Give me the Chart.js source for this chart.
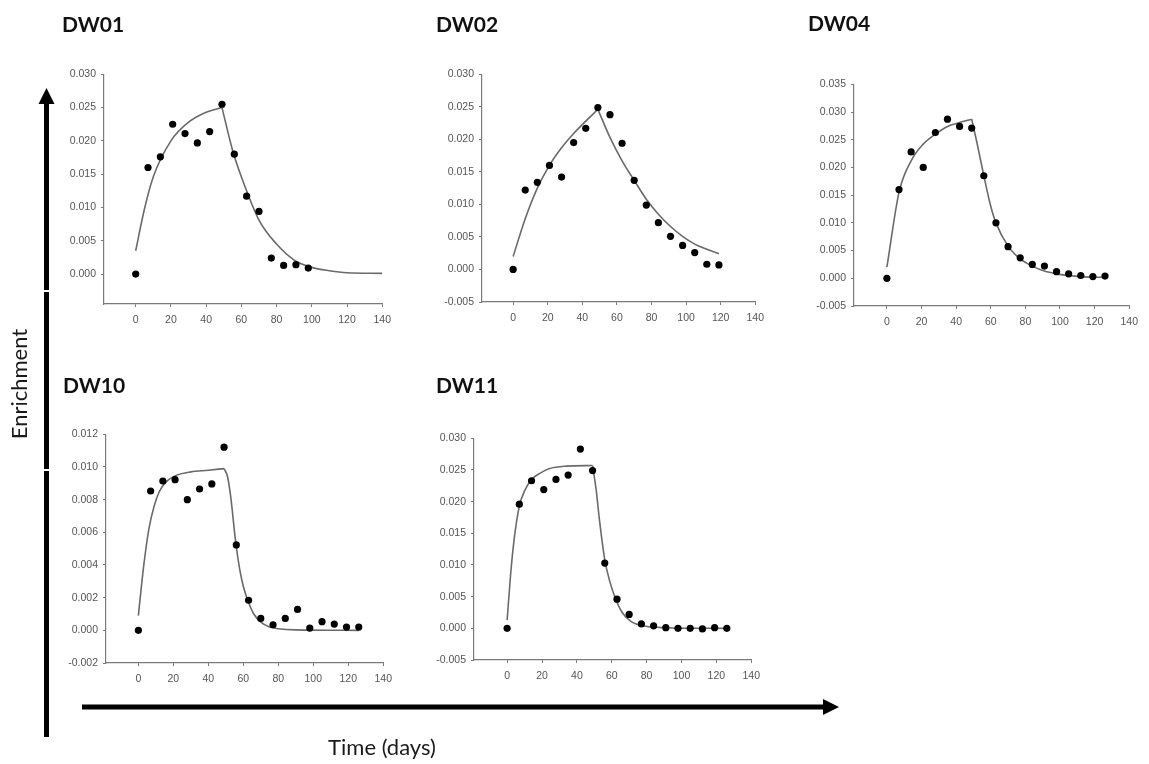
<!DOCTYPE html>
<html><head><meta charset="utf-8">
<script src="https://cdn.jsdelivr.net/npm/chart.js@4.4.0/dist/chart.umd.min.js"></script>
<style>
html,body{margin:0;padding:0;background:#fff;}
body{width:1149px;height:764px;position:relative;overflow:hidden;}
canvas{position:absolute;}
svg{position:absolute;left:0;top:0;pointer-events:none;}
</style></head><body>
<canvas id="c01"></canvas><canvas id="c02"></canvas><canvas id="c04"></canvas>
<canvas id="c10"></canvas><canvas id="c11"></canvas>
<svg id="ov" width="1149" height="764"></svg>
<script>
// ---------- data ----------
const sampleDays = [0,7,14,21,28,35,42,49,56,63,70,77,84,91,98,105,112,119,126];
const xTickValues = [0,20,40,60,80,100,120,140];

const dw01Obs = [0.0000,0.0160,0.0176,0.0225,0.0211,0.0197,0.0214,0.0255,0.0180,0.0117,0.0094,0.0024,0.0013,0.0014,0.0009];
const dw01RiseX = [0,5,10,20,30,40,49];
const dw01RiseY = [0.0035,0.0098,0.0146,0.0200,0.0228,0.0243,0.0250];
const dw01DecayX = [49,55,60,70,80,90,100,110,120,140];
const dw01DecayY = [0.0250,0.0186,0.0146,0.0081,0.0045,0.0021,0.0010,0.0005,0.0002,0.0001];
const dw01YTicks = [0,0.005,0.010,0.015,0.020,0.025,0.030];

const dw02Obs = [0.0000,0.0122,0.0134,0.0160,0.0142,0.0195,0.0217,0.0249,0.0238,0.0194,0.0137,0.0099,0.0072,0.0051,0.0037,0.0026,0.0008,0.0007];
const dw02RiseX = [0,7,14,21,28,35,42,49];
const dw02RiseY = [0.0020,0.0078,0.0125,0.0160,0.0187,0.0209,0.0228,0.0246];
const dw02DecayX = [49,56,63,70,77,84,91,98,105,112,119];
const dw02DecayY = [0.0246,0.0203,0.0167,0.0137,0.0108,0.0085,0.0066,0.0051,0.0039,0.0031,0.0024];
const dw02YTicks = [-0.005,0,0.005,0.010,0.015,0.020,0.025,0.030];

const dw04Obs = [0.0000,0.0160,0.0228,0.0200,0.0263,0.0287,0.0274,0.0271,0.0185,0.0100,0.0057,0.0037,0.0025,0.0022,0.0012,0.0008,0.0005,0.0003,0.0004];
const dw04RiseX = [0,7,14,21,28,35,42,49];
const dw04RiseY = [0.0020,0.0155,0.0212,0.0242,0.0260,0.0274,0.0281,0.0287];
const dw04DecayX = [49,52,56,60,63,70,77,84,91,98,105,112,119,126];
const dw04DecayY = [0.0287,0.0245,0.0185,0.0130,0.0100,0.0058,0.0035,0.0022,0.0013,0.0008,0.0005,0.0003,0.0002,0.0002];
const dw04YTicks = [-0.005,0,0.005,0.010,0.015,0.020,0.025,0.030,0.035];

const dw10Obs = [0.0000,0.00853,0.00914,0.00922,0.00800,0.00865,0.00896,0.01121,0.00523,0.00184,0.00073,0.00034,0.00073,0.00128,0.00014,0.00053,0.00038,0.00020,0.00020];
const dw10RiseX = [0,3,6,9,12,16,22,30,40,49];
const dw10RiseY = [0.0009,0.0039,0.0062,0.0076,0.0085,0.0091,0.0095,0.0097,0.0098,0.0099];
const dw10DecayX = [49,51,53,55,56,58,60,63,66,70,75,80,90,126];
const dw10DecayY = [0.0099,0.0094,0.0080,0.0060,0.0051,0.0037,0.0027,0.0017,0.0010,0.0005,0.0002,0.0001,0.00003,0.0000];
const dw10YTicks = [-0.002,0,0.002,0.004,0.006,0.008,0.010,0.012];

const dw11Obs = [0.0000,0.0196,0.0233,0.0219,0.0235,0.0242,0.0283,0.0249,0.0103,0.0046,0.0022,0.0007,0.0004,0.0001,0.0000,0.0000,-0.0001,0.0001,0.0000];
const dw11RiseX = [0,2,4,7,10,14,19,24,34,49];
const dw11RiseY = [0.0013,0.0085,0.0140,0.0193,0.0217,0.0235,0.0245,0.0252,0.0256,0.0257];
const dw11DecayX = [49,51,53,56,59,62,66,71,78,90,126];
const dw11DecayY = [0.0257,0.0220,0.0170,0.0108,0.0073,0.0048,0.0025,0.0011,0.0004,0.0001,0.0000];
const dw11YTicks = [-0.005,0,0.005,0.010,0.015,0.020,0.025,0.030];

// ---------- panels ----------
const AXW = 55, AXH = 27, PADT = 10, PADR = 15;
function pts(xs, ys){ return ys.map((y,i)=>({x:xs[i], y:y})); }

function makePanel(id, box, xMin, yMin, yMax, yTicks, obs, rx, ry, dx, dy){
  const cv = document.getElementById(id);
  const w = (box.r + PADR) - (box.l - AXW);
  const h = (box.b + AXH) - (box.t - PADT);
  cv.style.left = (box.l - AXW) + 'px';
  cv.style.top = (box.t - PADT) + 'px';
  cv.width = w; cv.height = h;
  cv.style.width = w + 'px'; cv.style.height = h + 'px';
  const lineStyle = {type:'line', borderColor:'#6a6a6a', borderWidth:1.6, pointRadius:0,
                     cubicInterpolationMode:'monotone', fill:false, order:2};
  new Chart(cv, {
    type:'scatter',
    data:{datasets:[
      Object.assign({label:'fit rise', data:pts(rx, ry)}, lineStyle),
      Object.assign({label:'fit decay', data:pts(dx, dy)}, lineStyle),
      {label:'observed', data:pts(sampleDays.slice(0, obs.length), obs), pointRadius:3.6,
       pointBackgroundColor:'#000', pointBorderColor:'#000', pointBorderWidth:0, showLine:false, order:1}
    ]},
    options:{
      responsive:false, animation:false, devicePixelRatio:1,
      layout:{padding:{top:PADT, right:PADR, left:0, bottom:0}},
      plugins:{legend:{display:false}, tooltip:{enabled:false}},
      scales:{
        x:{type:'linear', min:xMin, max:140,
           afterBuildTicks:(s)=>{ s.ticks = xTickValues.map(v=>({value:v})); },
           afterFit:(s)=>{ s.height = AXH; },
           grid:{drawOnChartArea:false, drawTicks:true, tickLength:3, color:'#7a7a7a'},
           border:{display:true, color:'#7a7a7a', width:1.2},
           ticks:{padding:7, color:'#555', font:{family:'Liberation Sans', size:10.5},
                  callback:(v)=>String(v), maxRotation:0, autoSkip:false}},
        y:{type:'linear', min:yMin, max:yMax,
           afterBuildTicks:(s)=>{ s.ticks = yTicks.map(v=>({value:v})); },
           afterFit:(s)=>{ s.width = AXW; },
           grid:{drawOnChartArea:false, drawTicks:true, tickLength:3, color:'#7a7a7a'},
           border:{display:true, color:'#7a7a7a', width:1.2},
           ticks:{padding:5, color:'#555', font:{family:'Liberation Sans', size:10.5},
                  callback:(v)=>Number(v).toFixed(3), autoSkip:false}}
      }
    }
  });
}

makePanel('c01', {l:104,t:73,r:383,b:304}, -18, -0.0045, 0.030, dw01YTicks, dw01Obs, dw01RiseX, dw01RiseY, dw01DecayX, dw01DecayY);
makePanel('c02', {l:482,t:73,r:756,b:302}, -18, -0.005, 0.030, dw02YTicks, dw02Obs, dw02RiseX, dw02RiseY, dw02DecayX, dw02DecayY);
makePanel('c04', {l:854,t:83,r:1130,b:306}, -19, -0.005, 0.035, dw04YTicks, dw04Obs, dw04RiseX, dw04RiseY, dw04DecayX, dw04DecayY);
makePanel('c10', {l:106,t:433,r:384,b:663}, -18.5, -0.002, 0.012, dw10YTicks, dw10Obs, dw10RiseX, dw10RiseY, dw10DecayX, dw10DecayY);
makePanel('c11', {l:474,t:437,r:752,b:660}, -19, -0.005, 0.030, dw11YTicks, dw11Obs, dw11RiseX, dw11RiseY, dw11DecayX, dw11DecayY);

// ---------- overlay: titles, arrows, axis captions ----------
const titles = [['DW01',62,32],['DW02',436,32],['DW04',808,31],['DW10',63,393],['DW11',436,393]];
const NS = 'http://www.w3.org/2000/svg';
const ov = document.getElementById('ov');
function el(tag, attrs, text){ const e = document.createElementNS(NS, tag); for (const k in attrs) e.setAttribute(k, attrs[k]); if (text) e.textContent = text; ov.appendChild(e); return e; }
titles.forEach(([t,x,y])=>el('text',{x:x,y:y,'font-family':'Lato','font-weight':'bold','font-size':21,fill:'#111'},t));
// vertical arrow
el('rect',{x:44,y:101,width:5,height:636,fill:'#000'});
el('polygon',{points:'46.5,88 38.5,104 54.5,104',fill:'#000'});
el('rect',{x:43,y:290,width:7,height:2,fill:'#fff'});
el('rect',{x:43,y:469,width:7,height:2,fill:'#fff'});
// horizontal arrow
el('rect',{x:82,y:704.5,width:742,height:5,fill:'#000'});
el('polygon',{points:'839,707 823,699 823,715',fill:'#000'});
el('text',{x:18,y:384,'font-family':'Lato','font-size':22,fill:'#1a1a1a','text-anchor':'middle','dominant-baseline':'central',transform:'rotate(-90 18 384)'},'Enrichment');
el('text',{x:382,y:755,'font-family':'Lato','font-size':22,fill:'#1a1a1a','text-anchor':'middle'},'Time (days)');
</script>
</body></html>
